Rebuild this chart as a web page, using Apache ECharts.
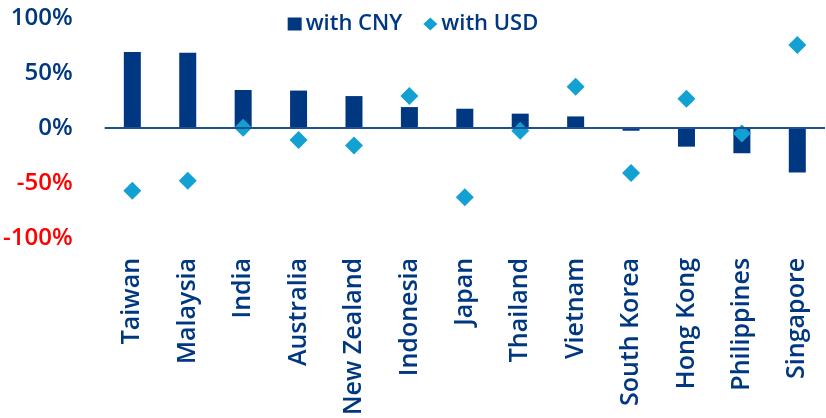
<!DOCTYPE html>
<html>
<head>
<meta charset="utf-8">
<script src="https://cdn.jsdelivr.net/npm/echarts@6/dist/echarts.min.js"></script>
<style>
    html, body { margin: 0; padding: 0; background: #fff; }
    #chart { width: 826px; height: 418px; }
</style>
</head>
<body>
<div id="chart"></div>
<script>
let countries = ["Taiwan", "Malaysia", "India", "Australia", "New Zealand", "Indonesia", "Japan",
    "Thailand", "Vietnam", "South Korea", "Hong Kong", "Philippines", "Singapore"];
let withCny = [69, 68.5, 34.5, 34, 29, 19, 17.5, 13, 10.5, -2.5, -17, -23, -40.5];
let withUsd = [-57, -48, 0.3, -11, -16, 29, -63, -2.5, 37.5, -41, 26.5, -5, 75.5];
let yTicks = [-100, -50, 0, 50, 100];

let navy = "#003781";
let lightBlue = "#13a0d3";
let font = "Open Sans";

let chart = echarts.init(document.getElementById("chart"));
let option = {
    animation: false,
    textStyle: {
        fontFamily: font
    },
    grid: {
        left: 101,
        right: 1,
        top: 18,
        bottom: 178
    },
    legend: {
        top: 8,
        left: "center",
        itemGap: 21,
        itemWidth: 14,
        itemHeight: 13,
        textStyle: {
            color: navy,
            fontFamily: font,
            fontWeight: 600,
            fontSize: 22,
            padding: [0, 0, 0, -1]
        },
        data: [
            { name: "with CNY", icon: "rect" },
            { name: "with USD", icon: "diamond" }
        ]
    },
    xAxis: {
        type: "category",
        data: countries,
        axisLine: { show: false, onZero: false },
        axisTick: { show: false },
        axisLabel: {
            rotate: 90,
            interval: 0,
            margin: 20,
            color: navy,
            fontFamily: font,
            fontWeight: 600,
            fontSize: 25
        }
    },
    yAxis: {
        type: "value",
        min: yTicks[0],
        max: yTicks[yTicks.length - 1],
        interval: 50,
        splitLine: { show: false },
        axisLine: { show: false },
        axisTick: { show: false },
        axisLabel: {
            margin: 32,
            fontFamily: font,
            fontWeight: 600,
            fontSize: 24,
            formatter: "{value}%",
            color: function (value) {
                return value < 0 ? "#ff0000" : navy;
            }
        }
    },
    series: [
        {
            name: "with CNY",
            type: "bar",
            data: withCny,
            barWidth: 17,
            itemStyle: { color: navy },
            markLine: {
                silent: true,
                symbol: "none",
                label: { show: false },
                lineStyle: { color: "#1d4f91", width: 2, type: "solid" },
                data: [{ yAxis: 0 }]
            }
        },
        {
            name: "with USD",
            type: "scatter",
            data: withUsd,
            symbol: "diamond",
            symbolSize: 18,
            itemStyle: { color: lightBlue, opacity: 1 },
            z: 3
        }
    ]
};
chart.setOption(option);
</script>
</body>
</html>
